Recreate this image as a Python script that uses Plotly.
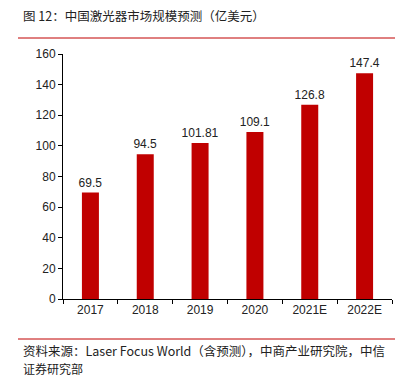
import plotly.graph_objects as go

categories = ["2017", "2018", "2019", "2020", "2021E", "2022E"]
values = [69.5, 94.5, 101.81, 109.1, 126.8, 147.4]
labels = ["69.5", "94.5", "101.81", "109.1", "126.8", "147.4"]
y_ticks = [0, 20, 40, 60, 80, 100, 120, 140, 160]

FONT = "Liberation Sans, Arial, Noto Sans CJK SC, sans-serif"
CJK = "Noto Sans CJK SC, " + FONT

fig = go.Figure()
fig.add_trace(go.Bar(
    x=categories, y=values,
    marker=dict(color="#C00000", line=dict(width=0)),
    text=labels, textposition="outside", constraintext="none",
    textfont=dict(family=FONT, size=12, color="#222222"),
    cliponaxis=False,
))

W, H = 405, 377
L, R, T, B = 63, 13, 54, 78
pw, ph = W - L - R, H - T - B
def px(x):
    return (x - L) / pw
def py(y):
    return (H - B - y) / ph

fig.update_layout(
    width=W, height=H,
    margin=dict(l=L, r=R, t=T, b=B),
    paper_bgcolor="white", plot_bgcolor="white",
    bargap=0.69,
    showlegend=False,
    font=dict(family=FONT, size=12, color="#222222"),
    xaxis=dict(
        showline=True, linecolor="black", linewidth=1,
        ticks="outside", tickson="boundaries", ticklen=4, tickcolor="black",
        tickfont=dict(size=12, color="#222222"),
        showgrid=False,
    ),
    yaxis=dict(
        range=[0, 160], tickvals=y_ticks,
        showline=True, linecolor="black", linewidth=1,
        ticks="outside", ticklen=4, tickcolor="black",
        tickfont=dict(size=12, color="#222222"),
        showgrid=False, zeroline=False,
    ),
    annotations=[
        dict(text="图 12：中国激光器市场规模预测（亿美元）", x=px(21), y=py(15),
             xref="paper", yref="paper", xanchor="left", yanchor="middle",
             showarrow=False, font=dict(size=12.5, color="#222222", family=CJK)),
        dict(text="资料来源：Laser Focus World（含预测），中商产业研究院，中信",
             x=px(21), y=py(350.5), xref="paper", yref="paper", xanchor="left", yanchor="middle",
             showarrow=False, font=dict(size=12.5, color="#222222", family=CJK)),
        dict(text="证券研究部",
             x=px(21), y=py(368.5), xref="paper", yref="paper", xanchor="left", yanchor="middle",
             showarrow=False, font=dict(size=12, color="#222222", family=CJK)),
    ],
    shapes=[
        dict(type="line", xref="paper", yref="paper", x0=px(18), x1=px(395), y0=py(38), y1=py(38),
             line=dict(color="#C00000", width=1)),
        dict(type="line", xref="paper", yref="paper", x0=px(18), x1=px(395), y0=py(339), y1=py(339),
             line=dict(color="#C00000", width=1)),
    ],
)

fig.write_html("out.html", config={"displayModeBar": False},
               post_script="document.body.style.margin='0';document.body.style.overflow='hidden';")
